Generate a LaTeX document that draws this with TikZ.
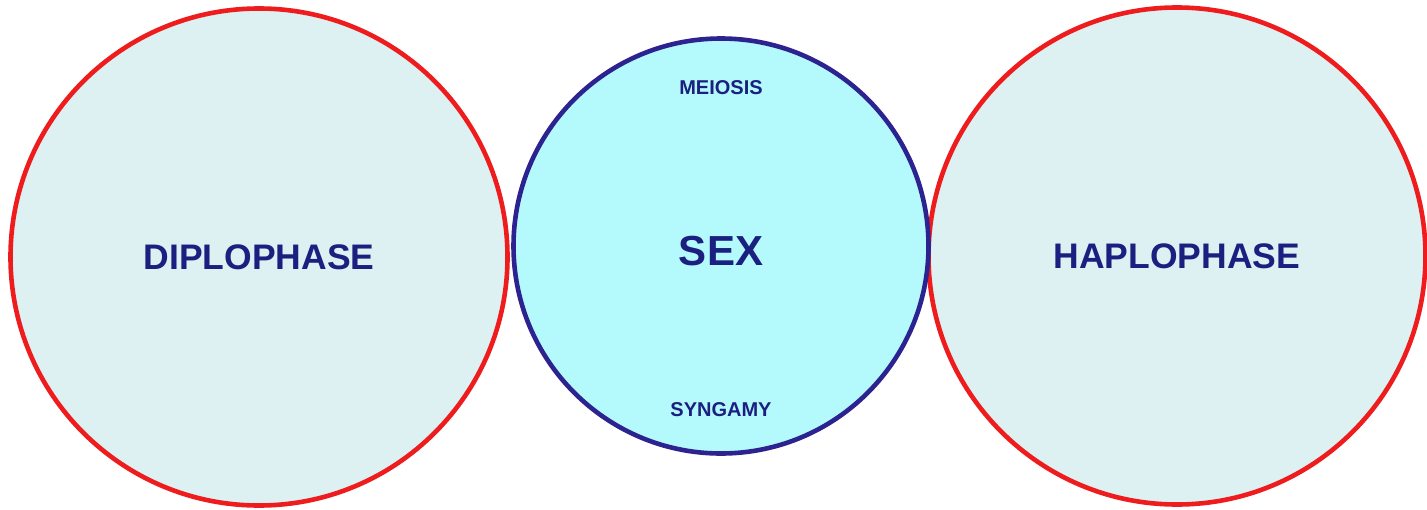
\documentclass[tikz,border=0pt]{standalone}
\usepackage{fontspec}
\setmainfont{Liberation Sans}
\usepackage{xcolor}
\usepackage{tikz}
\usetikzlibrary{positioning}
\definecolor{phasered}{HTML}{EE1C1C}
\definecolor{phasefill}{HTML}{DEF1F2}
\definecolor{sexfill}{HTML}{B4FAFC}
\definecolor{sexblue}{HTML}{2C2290}
\definecolor{labelblue}{HTML}{1A1F80}

\tikzset{
  phase/.style={circle, draw=phasered, fill=phasefill, line width=4.6pt, minimum size=497pt, inner sep=0pt,
    text=labelblue, font=\bfseries\fontsize{35.5}{40}\selectfont},
  sexcircle/.style={circle, draw=sexblue, fill=sexfill, line width=4.6pt, minimum size=415pt, inner sep=0pt,
    text=labelblue, text height=38pt, text depth=0pt, font=\bfseries\fontsize{42}{48}\selectfont},
  steplabel/.style={text=labelblue, font=\bfseries\fontsize{20}{22}\selectfont, inner sep=0pt}
}

\begin{document}
\begin{tikzpicture}[x=1pt, y=-1pt]
            \useasboundingbox (0,0) rectangle (1427,509);
            \node[phase] (diplo) at (259,257) {DIPLOPHASE};
            \node[phase] (haplo) at (1177,256) {HAPLOPHASE};
            \node[sexcircle] (sex) at (721,246) {SEX};
            \node[steplabel, below=44pt of sex.north] (meiosis) {MEIOSIS};
            \node[steplabel, above=39pt of sex.south] (syngamy) {SYNGAMY};
        \end{tikzpicture}
\end{document}
